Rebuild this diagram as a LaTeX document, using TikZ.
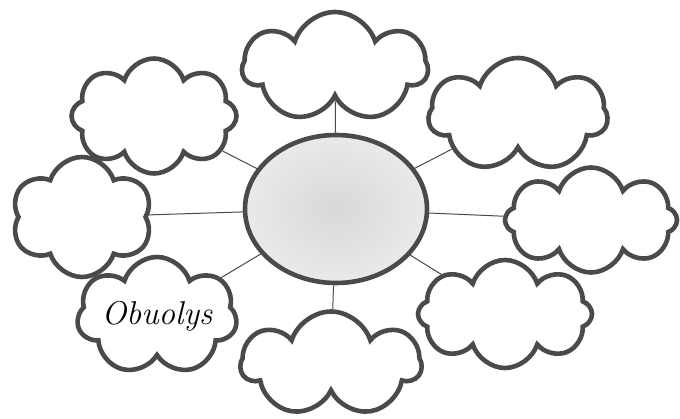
\documentclass[tikz,border=0pt]{standalone}
\usepackage{xcolor}
\usepackage{tikz}
\usetikzlibrary{shapes.symbols,shapes.geometric}

\definecolor{pencil}{HTML}{4A4A4A}
\definecolor{lead}{HTML}{D8D8D8}

\begin{document}
\begin{tikzpicture}[x=1pt, y=-1pt,
  idea/.style={cloud, cloud puffs=7, cloud puff arc=145, cloud ignores aspect, draw=pencil, line width=4.6pt, fill=white, inner sep=0pt},
  core/.style={ellipse, draw=pencil, line width=4.6pt, inner color=lead, outer color=lead!55, minimum width=182pt, minimum height=148pt},
  spoke/.style={draw=pencil, line width=1pt}
]
\useasboundingbox (0,0) rectangle (680,419);

% Central topic
\node[core] (core) at (336, 209) {};

% Upper row
\node[idea, minimum width=185pt, minimum height=110pt, shape border rotate=8] (top) at (335, 67) {};
\node[idea, minimum width=165pt, minimum height=115pt, cloud puffs=8, shape border rotate=20] (topleft) at (154, 116) {};
\node[idea, minimum width=179pt, minimum height=114pt] (topright) at (518, 115) {};

% Middle row
\node[idea, minimum width=141pt, minimum height=120pt, cloud puffs=6, shape border rotate=30] (left) at (82, 217) {};
\node[idea, minimum width=172pt, minimum height=105pt, cloud puffs=8] (right) at (591, 220) {};

% Lower row
\node[idea, minimum width=160pt, minimum height=118pt, font=\fontsize{33}{38}\selectfont\itshape] (apple) at (157, 316) {Obuolys};
\node[idea, minimum width=180pt, minimum height=105pt, shape border rotate=15] (bottom) at (331, 364) {};
\node[idea, minimum width=174pt, minimum height=108pt, cloud puffs=8, shape border rotate=10] (bottomright) at (505, 314) {};

% Spokes
\foreach \n in {top, topleft, topright, left, right, apple, bottom, bottomright}
  \draw[spoke] (core) -- (\n);

\end{tikzpicture}
\end{document}
